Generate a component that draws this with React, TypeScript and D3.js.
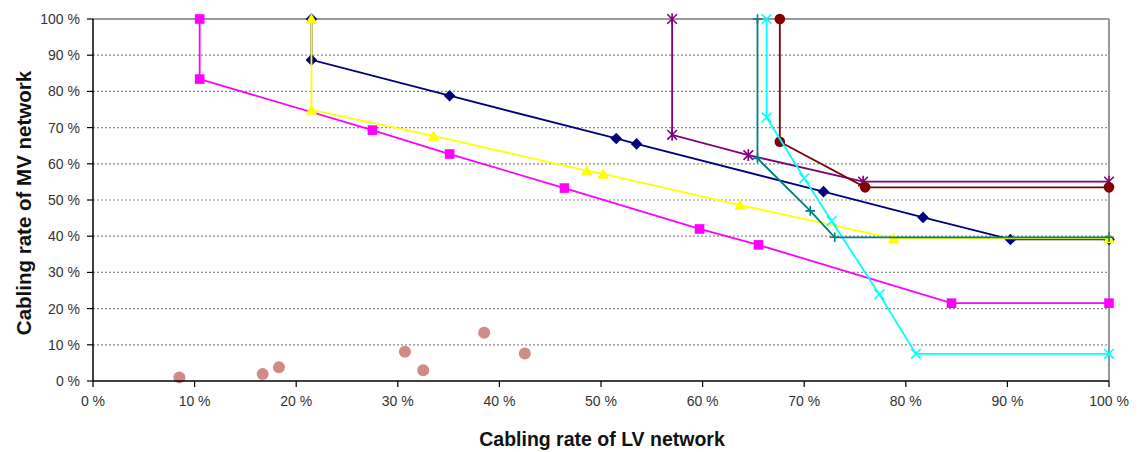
import React from "react";
import * as d3 from "d3";

const W = 1146;
const H = 452;
const M = { left: 93, top: 19, right: 1109, bottom: 381 };

const ticks = [0, 10, 20, 30, 40, 50, 60, 70, 80, 90, 100];
const tickLabels = ticks.map((t) => `${t} %`);

const navyX = [21.5, 21.5, 35.1, 51.5, 53.5, 71.9, 81.7, 90.3, 100];
const navyY = [100, 88.7, 78.8, 67.0, 65.5, 52.3, 45.2, 39.1, 39.1];

const pinkX = [10.5, 10.5, 27.5, 35.1, 46.4, 59.7, 65.5, 84.5, 100];
const pinkY = [100, 83.4, 69.3, 62.7, 53.3, 42.0, 37.6, 21.5, 21.5];

const yellowX = [21.5, 21.5, 33.5, 48.6, 50.2, 63.7, 78.8, 100];
const yellowY = [100, 74.9, 67.7, 58.1, 57.2, 48.6, 39.4, 39.4];

const purpleX = [57.0, 57.0, 64.5, 75.8, 100];
const purpleY = [100, 68.0, 62.4, 55.1, 55.1];

const darkredX = [67.6, 67.6, 76.0, 100];
const darkredY = [100, 66.1, 53.5, 53.5];

const tealX = [65.4, 65.4, 70.6, 73.0, 100];
const tealY = [100, 61.5, 47.0, 39.7, 39.7];

const cyanX = [66.3, 66.3, 70.0, 72.7, 77.4, 81.0, 100];
const cyanY = [100, 72.8, 56.0, 44.2, 23.9, 7.5, 7.5];

const dotsX = [8.5, 16.7, 18.3, 30.7, 32.5, 38.5, 42.5];
const dotsY = [1.0, 1.9, 3.8, 8.1, 3.0, 13.3, 7.6];

type Series = { xs: number[]; ys: number[]; color: string; marker: string };

const series: Series[] = [
  { xs: navyX, ys: navyY, color: "#000080", marker: "diamond" },
  { xs: pinkX, ys: pinkY, color: "#FF00FF", marker: "square" },
  { xs: yellowX, ys: yellowY, color: "#FFFF00", marker: "triangle" },
  { xs: purpleX, ys: purpleY, color: "#800080", marker: "star" },
  { xs: darkredX, ys: darkredY, color: "#800000", marker: "circle" },
  { xs: cyanX, ys: cyanY, color: "#00FFFF", marker: "x" },
  { xs: tealX, ys: tealY, color: "#008080", marker: "plus" },
];

const x = d3.scaleLinear().domain([0, 100]).range([M.left, M.right]);
const y = d3.scaleLinear().domain([0, 100]).range([M.bottom, M.top]);

function Marker({ cx, cy, type, color }: { cx: number; cy: number; type: string; color: string }) {
  const s = 4.8;
  switch (type) {
    case "diamond":
      return <path d={`M${cx},${cy - s - 1}L${cx + s + 1},${cy}L${cx},${cy + s + 1}L${cx - s - 1},${cy}Z`} fill={color} />;
    case "square":
      return <rect x={cx - s} y={cy - s} width={2 * s} height={2 * s} fill={color} />;
    case "triangle":
      return <path d={`M${cx},${cy - s - 1}L${cx + s + 1},${cy + s}L${cx - s - 1},${cy + s}Z`} fill={color} />;
    case "circle":
      return <circle cx={cx} cy={cy} r={s + 0.5} fill={color} />;
    case "x":
      return (
        <path d={`M${cx - s},${cy - s}L${cx + s},${cy + s}M${cx - s},${cy + s}L${cx + s},${cy - s}`} stroke={color} strokeWidth={1.6} />
      );
    case "star":
      return (
        <path
          d={`M${cx - s},${cy - s}L${cx + s},${cy + s}M${cx - s},${cy + s}L${cx + s},${cy - s}M${cx},${cy - s - 1}L${cx},${cy + s + 1}`}
          stroke={color}
          strokeWidth={1.6}
        />
      );
    case "plus":
      return (
        <path d={`M${cx - s},${cy}L${cx + s},${cy}M${cx},${cy - s}L${cx},${cy + s}`} stroke={color} strokeWidth={1.6} />
      );
    default:
      return null;
  }
}

export default function App() {
  const line = d3
    .line<[number, number]>()
    .x((d) => x(d[0]))
    .y((d) => y(d[1]));
  const font = "'Liberation Sans', Arial, sans-serif";
  return (
    <svg width={W} height={H} style={{ position: "absolute", left: 0, top: 0, background: "#fff" }} fontFamily={font}>
      {/* gridlines */}
      {ticks.slice(1, -1).map((t) => (
        <line key={t} x1={M.left} x2={M.right} y1={y(t)} y2={y(t)} stroke="#8a8a8a" strokeWidth={1.2} strokeDasharray="2,2" />
      ))}
      <line x1={M.left} x2={M.right} y1={y(100)} y2={y(100)} stroke="#999" strokeWidth={2} />
      <line x1={M.right} x2={M.right} y1={M.top} y2={M.bottom} stroke="#999" strokeWidth={2} />

      {/* dots */}
      {dotsX.map((d, i) => (
        <circle key={i} cx={x(d)} cy={y(dotsY[i])} r={6} fill="#D08A88" />
      ))}

      {/* series */}
      {series.map((s, i) => {
        const pts = s.xs.map((v, j) => [v, s.ys[j]] as [number, number]);
        return (
          <g key={i}>
            <path d={line(pts) || ""} fill="none" stroke={s.color} strokeWidth={1.8} />
            {pts.map((p, j) => (
              <Marker key={j} cx={x(p[0])} cy={y(p[1])} type={s.marker} color={s.color} />
            ))}
          </g>
        );
      })}

      {/* axes */}
      <line x1={M.left} x2={M.left} y1={M.top} y2={M.bottom} stroke="#000" strokeWidth={1.5} />
      <line x1={M.left} x2={M.right} y1={M.bottom} y2={M.bottom} stroke="#000" strokeWidth={1.5} />
      {ticks.map((t, i) => (
        <g key={"y" + t}>
          <line x1={M.left - 6} x2={M.left} y1={y(t)} y2={y(t)} stroke="#000" strokeWidth={1.2} />
          <text x={M.left - 13} y={y(t)} dy="0.36em" textAnchor="end" fontSize={14} fill="#333">
            {tickLabels[i]}
          </text>
        </g>
      ))}
      {ticks.map((t, i) => (
        <g key={"x" + t}>
          <line x1={x(t)} x2={x(t)} y1={M.bottom} y2={M.bottom + 6} stroke="#000" strokeWidth={1.2} />
          <text x={x(t)} y={406} textAnchor="middle" fontSize={14} fill="#333">
            {tickLabels[i]}
          </text>
        </g>
      ))}
      <text x={602} y={446} textAnchor="middle" fontSize={19.5} fontWeight="bold" fill="#111">
        Cabling rate of LV network
      </text>
      <text transform="translate(31,203) rotate(-90)" textAnchor="middle" fontSize={20.5} fontWeight="bold" fill="#111">
        Cabling rate of MV network
      </text>
    </svg>
  );
}
